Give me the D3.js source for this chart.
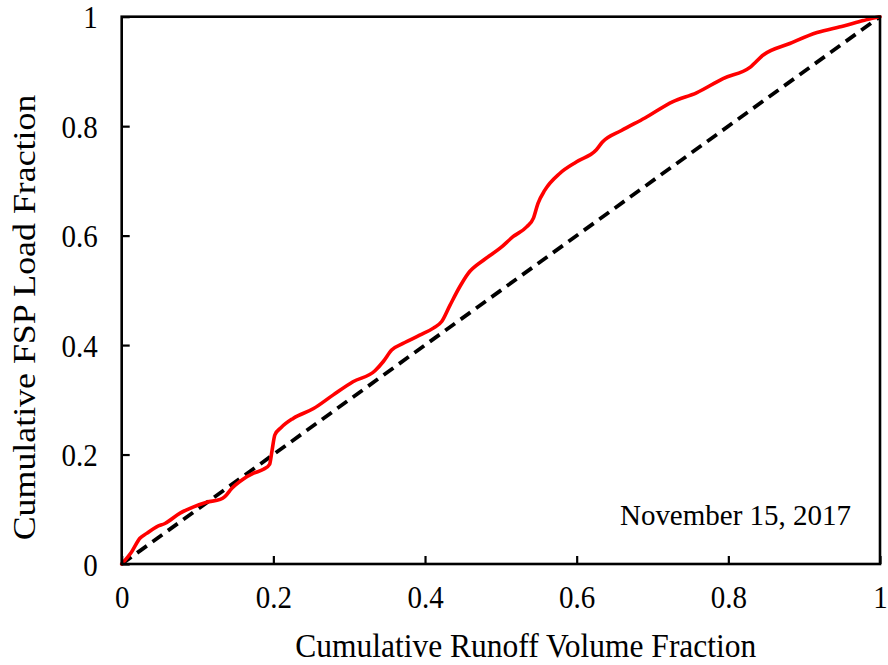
<!DOCTYPE html>
<html>
<head>
<meta charset="utf-8">
<script src="https://cdn.jsdelivr.net/npm/d3@7/dist/d3.min.js"></script>
<style>
  html, body { margin: 0; padding: 0; background: #fff; }
  svg { display: block; }
  text { font-family: "Liberation Serif", "Times New Roman", serif; fill: #000; }
</style>
</head>
<body>
<svg id="chart" width="888" height="665"></svg>
<script>
// Data
const runoffFraction = [0, 0.013, 0.024, 0.033, 0.046, 0.057, 0.077, 0.094, 0.112, 0.130, 0.136, 0.145, 0.160, 0.174, 0.187, 0.195, 0.198, 0.202, 0.210, 0.226, 0.253, 0.279, 0.305, 0.334, 0.345, 0.356, 0.371, 0.393, 0.411, 0.422, 0.433, 0.446, 0.457, 0.477, 0.499, 0.516, 0.534, 0.543, 0.549, 0.558, 0.578, 0.600, 0.626, 0.634, 0.659, 0.690, 0.727, 0.758, 0.793, 0.829, 0.846, 0.881, 0.917, 0.952, 0.978, 0.996, 1];
const loadFraction   = [0, 0.022, 0.047, 0.056, 0.068, 0.074, 0.093, 0.104, 0.113, 0.118, 0.123, 0.138, 0.155, 0.166, 0.173, 0.182, 0.205, 0.236, 0.249, 0.266, 0.284, 0.309, 0.333, 0.353, 0.370, 0.391, 0.403, 0.418, 0.431, 0.443, 0.473, 0.507, 0.531, 0.555, 0.577, 0.598, 0.616, 0.632, 0.659, 0.683, 0.714, 0.735, 0.757, 0.771, 0.792, 0.815, 0.845, 0.861, 0.887, 0.908, 0.930, 0.951, 0.971, 0.983, 0.993, 0.999, 1];
const lineOfEquality = [[0, 0], [1, 1]];
const xTicks = [0, 0.2, 0.4, 0.6, 0.8, 1];
const yTicks = [0, 0.2, 0.4, 0.6, 0.8, 1];
const xTitle = "Cumulative Runoff Volume Fraction";
const yTitle = "Cumulative FSP Load Fraction";
const dateLabel = "November 15, 2017";

const svg = d3.select("#chart");
const L = 121.7, R = 880, T = 16.7, B = 564;
const x = d3.scaleLinear().domain([0, 1]).range([L, R]);
const y = d3.scaleLinear().domain([0, 1]).range([B, T]);

const fmt = d => String(d);

// Lines
const series = runoffFraction.map((v, i) => [v, loadFraction[i]]);
const line = d3.line().x(d => x(d[0])).y(d => y(d[1])).curve(d3.curveMonotoneX);

svg.append("path").datum(lineOfEquality)
  .attr("d", d3.line().x(d => x(d[0])).y(d => y(d[1])))
  .attr("fill", "none").attr("stroke", "#000").attr("stroke-width", 3.8)
  .attr("stroke-dasharray", "12,7");

svg.append("path").datum(series)
  .attr("d", line)
  .attr("fill", "none").attr("stroke", "#ff0000").attr("stroke-width", 3.6)
  .attr("stroke-linejoin", "round").attr("stroke-linecap", "round");

// Frame
svg.append("rect").attr("x", L).attr("y", T).attr("width", R - L).attr("height", B - T)
  .attr("fill", "none").attr("stroke", "#000").attr("stroke-width", 2.6);

// Axes (inward ticks)
const xAxis = d3.axisBottom(x).tickValues(xTicks).tickSize(-8).tickFormat(fmt);
const gx = svg.append("g").attr("transform", `translate(0,${B})`).call(xAxis);
gx.select(".domain").remove();
gx.selectAll(".tick line").attr("stroke", "#000").attr("stroke-width", 2.2);
gx.selectAll(".tick text")
  .attr("y", 0).attr("dy", 0)
  .attr("transform", "translate(0,44) scale(1,1.08)")
  .style("font-size", "29px").style("font-family", "Liberation Serif");

const yAxis = d3.axisLeft(y).tickValues(yTicks).tickSize(-8).tickFormat(fmt);
const gy = svg.append("g").attr("transform", `translate(${L},0)`).call(yAxis);
gy.select(".domain").remove();
gy.selectAll(".tick line").attr("stroke", "#000").attr("stroke-width", 2.2);
gy.selectAll(".tick text")
  .attr("x", 0).attr("dy", 0)
  .attr("text-anchor", "end")
  .attr("transform", "translate(-24,11) scale(1,1.08)")
  .style("font-size", "29px").style("font-family", "Liberation Serif");

// Titles
svg.append("text")
  .attr("transform", `translate(${525.8},${656.5}) scale(1,1.1)`)
  .attr("text-anchor", "middle")
  .style("font-size", "31.5px")
  .text(xTitle);

svg.append("text")
  .attr("transform", `translate(35,${317.5}) rotate(-90) scale(1.12,1)`)
  .attr("text-anchor", "middle")
  .style("font-size", "32px")
  .text(yTitle);

svg.append("text")
  .attr("transform", `translate(851,525) scale(1,1.05)`)
  .attr("text-anchor", "end")
  .style("font-size", "29px")
  .text(dateLabel);
</script>
</body>
</html>
